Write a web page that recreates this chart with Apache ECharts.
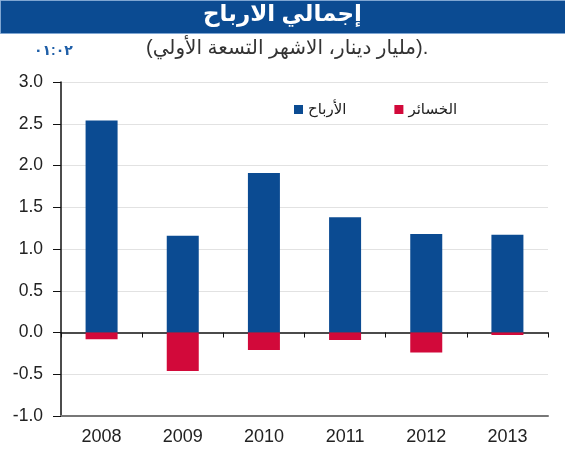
<!DOCTYPE html>
<html><head><meta charset="utf-8">
<script src="https://cdn.jsdelivr.net/npm/echarts@6/dist/echarts.min.js"></script>
<style>html,body{margin:0;padding:0;background:#fff}#c{width:565px;height:450px}</style>
</head><body><div id="c"></div>
<script>
const years = ['2008','2009','2010','2011','2012','2013'];
const profits = [2.54, 1.16, 1.91, 1.38, 1.18, 1.17];
const losses = [-0.08, -0.46, -0.21, -0.09, -0.24, -0.03];
const seriesNames = ['الأرباح', 'الخسائر'];
const titleText = 'إجمالي الارباح';
const subtitleText = '(مليار دينار، الاشهر التسعة الأولي).';
const pageRef = '٠١:٠٢';

const FONT = '"Liberation Sans", "DejaVu Sans", Arial, sans-serif';
const chart = echarts.init(document.getElementById('c'), null, {renderer: 'canvas'});
chart.setOption({
  animation: false,
  backgroundColor: '#fff',
  graphic: [
    {type: 'rect', left: 0, top: 0, shape: {width: 565, height: 33}, style: {fill: '#0b4b92', stroke: '#7fa6d2', lineWidth: 1}, z: 0},
    {type: 'text', left: 'center', top: 3, style: {text: titleText, fill: '#fff', font: 'bold 23px ' + FONT}, z: 1},
    {type: 'text', left: 146, top: 38, style: {text: subtitleText, fill: '#333', font: '20px ' + FONT, direction: 'rtl'}, z: 1},
    {type: 'text', left: 34, top: 44, style: {text: pageRef, fill: '#1f5fa8', font: 'bold 14px ' + FONT}, z: 1}
  ],
  legend: {
    data: seriesNames,
    left: 289, top: 97,
    itemWidth: 9, itemHeight: 9, itemGap: 48,
    icon: 'rect',
    textStyle: {fontFamily: FONT, fontSize: 15, color: '#222'}
  },
  grid: {left: 61, right: 17, top: 82, bottom: 34, containLabel: false},
  xAxis: [
    {
      type: 'category', data: years,
      axisLine: {onZero: true, lineStyle: {color: '#111', width: 1.5}},
      axisTick: {show: true, length: 5, lineStyle: {color: '#111'}},
      axisLabel: {show: false},
      splitLine: {show: false}
    },
    {
      type: 'category', data: years, position: 'bottom',
      axisLine: {onZero: false, lineStyle: {color: '#777', width: 2}},
      axisTick: {show: false},
      axisLabel: {color: '#222', fontSize: 18, fontFamily: FONT, margin: 12},
      splitLine: {show: false}
    }
  ],
  yAxis: {
    type: 'value', min: -1, max: 3, interval: 0.5,
    axisLine: {show: true, lineStyle: {color: '#111', width: 1.5}},
    axisTick: {show: true, length: 8, lineStyle: {color: '#111'}},
    axisLabel: {color: '#222', fontSize: 17.5, fontFamily: FONT, margin: 18, formatter: v => v.toFixed(1)},
    splitLine: {show: true, lineStyle: {color: ['#777', '#e2e2e2', 'rgba(0,0,0,0)', '#e2e2e2', '#e2e2e2', '#e2e2e2', '#e2e2e2', '#e2e2e2', '#e2e2e2']}}
  },
  series: [
    {name: seriesNames[0], type: 'bar', stack: 'a', data: profits, barWidth: 32, xAxisIndex: 0, itemStyle: {color: '#0b4b92'}},
    {name: seriesNames[1], type: 'bar', stack: 'a', data: losses, barWidth: 32, xAxisIndex: 0, itemStyle: {color: '#d2093a'}}
  ]
});
</script></body></html>
